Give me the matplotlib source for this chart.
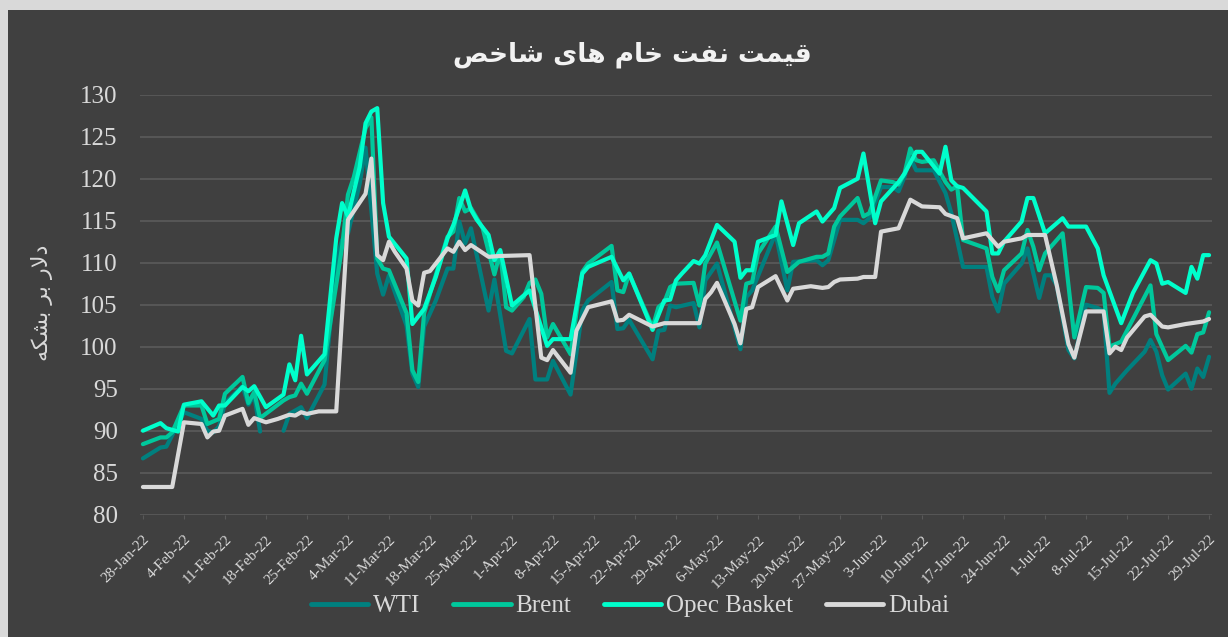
import numpy as np
import matplotlib
matplotlib.use('Agg')
import matplotlib.pyplot as plt
import matplotlib.dates as mdates
from matplotlib.patches import Rectangle

# days counted from 28-Jan-22
wti_days = [0, 3, 4, 7, 10, 11, 12, 13, 14, 17, 18, 19, 20, 22, 24, 25, 26, 27, 28, 31,
            33, 34, 35, 37, 38, 40, 41, 42, 45, 46, 47, 48, 50, 52, 53, 54, 55, 56, 59, 60,
            62, 63, 66, 67, 69, 70, 73, 75, 76, 80, 81, 82, 83, 87, 88, 89, 90, 91, 94, 95,
            96, 98, 102, 103, 104, 108, 110, 111, 115, 116, 117, 119, 122, 123, 124, 126, 128, 129, 130, 131,
            132, 135, 137, 138, 140, 144, 145, 146, 147, 150, 151, 153, 154, 155, 156, 158, 159, 161, 163, 164,
            165, 166, 168, 171, 172, 173, 174, 175, 178, 179, 180, 181, 182]
wti_vals = [86.7, 88.0, 88.1, 92.2, 91.4, 90.0, 89.8, 90.5, 93.3, 95.3, 93.1, 94.2, 89.9, np.nan, 90.0, 92.0, 92.4, 92.8, 91.5, 95.5,
            110.3, 112.7, 113.5, 119.4, 123.7, 108.7, 106.2, 108.5, 102.5, 96.8, 95.2, 102.4, 105.5, 109.3, 109.3, 114.9, 112.3, 114.1, 104.3, 108.0,
            99.5, 99.2, 103.3, 96.1, 96.1, 98.3, 94.3, 104.3, 105.5, 107.7, 102.1, 102.2, 103.2, 98.5, 101.9, 102.0, 104.9, 104.7, 105.2, 102.3,
            107.9, 109.9, 99.7, 105.9, 106.7, 113.5, 106.7, 110.1, 110.3, 109.7, 110.3, 115.1, 115.1, 114.7, 115.3, 119.0, 119.0, 118.5, 120.2, 122.5,
            121.0, 121.0, 118.3, 115.9, 109.5, 109.5, 105.9, 104.2, 107.5, 109.9, 111.7, 105.8, 108.5, 108.5, 107.3, 99.6, 98.6, 105.0, 104.6, 104.2,
            94.5, 95.6, 97.2, 99.4, 100.8, 99.4, 96.6, 94.9, 96.8, 95.0, 97.4, 96.4, 98.8]

brent_days = [0, 3, 4, 5, 7, 10, 11, 13, 14, 17, 18, 19, 20, 24, 25, 26, 27, 28, 31, 34,
              35, 36, 38, 39, 40, 41, 42, 45, 46, 47, 48, 52, 53, 54, 55, 56, 58, 60, 61, 62,
              63, 65, 66, 67, 68, 69, 70, 73, 75, 76, 80, 81, 82, 83, 87, 88, 89, 90, 91, 94,
              95, 96, 98, 102, 103, 104, 105, 108, 110, 112, 115, 116, 117, 118, 119, 122, 123, 124, 126, 128,
              129, 130, 131, 132, 133, 135, 137, 138, 139, 140, 144, 145, 146, 147, 150, 151, 152, 153, 154, 157,
              159, 161, 163, 164, 165, 167, 172, 173, 175, 178, 179, 180, 181, 182]
brent_vals = [88.4, 89.2, 89.2, 89.8, 93.0, 93.0, 90.8, 91.4, 94.4, 96.4, 93.3, 94.6, 91.5, 93.6, 94.0, 94.2, 95.6, 94.4, 98.4, 111.9,
              118.1, 120.2, 126.0, 127.3, 110.5, 109.3, 109.1, 104.0, 97.2, 95.8, 104.0, 113.1, 113.7, 117.7, 116.1, 116.5, 114.1, 108.6, 111.3, 104.7,
              104.3, 105.9, 107.6, 108.0, 106.3, 101.1, 102.7, 99.1, 108.9, 109.9, 112.0, 106.7, 106.5, 108.7, 102.3, 104.7, 105.3, 107.1, 107.5, 107.6,
              104.9, 109.9, 112.4, 103.1, 107.5, 107.7, 111.1, 114.3, 108.9, 110.1, 110.7, 110.7, 111.1, 114.3, 115.5, 117.7, 115.5, 115.9, 119.8, 119.6,
              119.3, 120.6, 123.6, 122.2, 122.0, 122.2, 119.6, 118.7, 119.1, 112.7, 111.7, 108.3, 106.6, 109.1, 111.1, 113.9, 111.9, 109.1, 111.1, 113.5,
              101.1, 107.1, 107.0, 106.4, 100.0, 100.6, 107.3, 101.5, 98.4, 100.1, 99.3, 101.5, 101.7, 104.1]

opec_days = [0, 3, 4, 6, 7, 10, 12, 13, 14, 17, 18, 19, 21, 24, 25, 26, 27, 28, 31, 33,
             34, 35, 37, 38, 39, 40, 41, 42, 45, 46, 48, 50, 52, 53, 55, 56, 57, 59, 60, 61,
             63, 65, 66, 69, 70, 73, 75, 76, 80, 82, 83, 87, 89, 90, 91, 92, 94, 95, 96, 98,
             101, 102, 103, 104, 105, 108, 109, 111, 112, 115, 116, 118, 119, 122, 123, 125, 126, 129, 130, 132,
             133, 136, 137, 138, 139, 140, 144, 145, 146, 147, 150, 151, 152, 154, 157, 158, 161, 163, 164, 167,
             169, 172, 173, 174, 175, 178, 179, 180, 181, 182]
opec_vals = [90.0, 90.9, 90.3, 89.9, 93.1, 93.5, 91.8, 93.0, 93.0, 95.2, 94.7, 95.3, 92.8, 94.3, 97.9, 96.0, 101.3, 96.7, 99.1, 112.9,
             117.1, 115.5, 121.4, 126.6, 128.0, 128.4, 117.1, 113.1, 110.5, 102.7, 104.5, 108.3, 112.9, 114.5, 118.6, 116.3, 115.1, 113.3, 110.3, 111.5,
             104.9, 106.1, 106.7, 100.1, 100.9, 100.9, 108.7, 109.5, 110.7, 107.9, 108.7, 102.0, 105.5, 105.6, 107.9, 108.7, 110.2, 109.9, 110.9, 114.5,
             112.5, 108.2, 109.1, 109.1, 112.5, 113.3, 117.3, 112.1, 114.7, 116.1, 114.9, 116.5, 118.9, 120.0, 123.0, 114.7, 117.3, 119.6, 120.6, 123.2,
             123.2, 120.6, 123.8, 119.8, 119.1, 118.9, 116.1, 111.1, 111.1, 112.5, 114.9, 117.7, 117.7, 113.5, 115.3, 114.3, 114.3, 111.7, 108.5, 102.8,
             106.4, 110.3, 109.9, 107.5, 107.7, 106.4, 109.5, 108.1, 110.9, 110.9]

dubai_days = [0, 5, 7, 10, 11, 12, 13, 14, 17, 18, 19, 21, 23, 25, 26, 27, 28, 30, 33, 35,
              38, 39, 40, 41, 42, 43, 45, 46, 47, 48, 49, 52, 53, 54, 55, 56, 59, 61, 66, 68,
              69, 70, 73, 74, 76, 80, 81, 82, 83, 87, 89, 95, 96, 97, 98, 101, 102, 103, 104, 105,
              108, 110, 111, 114, 116, 117, 118, 119, 122, 123, 125, 126, 129, 131, 133, 136, 137, 139, 140, 144,
              146, 147, 150, 151, 154, 156, 158, 159, 161, 164, 165, 166, 167, 168, 171, 172, 174, 175, 178, 181,
              182]
dubai_vals = [83.3, 83.3, 91.0, 90.8, 89.2, 89.9, 90.0, 91.8, 92.6, 90.7, 91.5, 91.0, 91.4, 91.9, 91.8, 92.2, 92.0, 92.3, 92.3, 115.1,
              118.2, 122.4, 110.9, 110.3, 112.5, 111.3, 109.3, 105.5, 104.9, 108.8, 109.0, 111.7, 111.3, 112.5, 111.5, 112.1, 110.7, 110.8, 110.9, 98.7,
              98.4, 99.6, 96.9, 101.9, 104.7, 105.4, 103.1, 103.2, 103.8, 102.4, 102.8, 102.8, 105.7, 106.5, 107.6, 102.7, 100.4, 104.5, 104.7, 107.1,
              108.4, 105.5, 106.9, 107.2, 107.0, 107.1, 107.7, 108.0, 108.1, 108.3, 108.3, 113.7, 114.1, 117.5, 116.7, 116.6, 115.8, 115.3, 112.9, 113.5,
              111.9, 112.5, 112.9, 113.3, 113.3, 107.3, 100.3, 98.7, 104.2, 104.2, 99.2, 100.0, 99.6, 101.1, 103.6, 103.8, 102.4, 102.3, 102.7, 103.0,
              103.3]

series_names = ['WTI', 'Brent', 'Opec Basket', 'Dubai']
series_colors = ['#00807f', '#00c89c', '#00ffcc', '#d9d9d9']

title_text = 'قیمت نفت خام های شاخص'
ylabel_text = 'دلار بر بشکه'

# matplotlib does no Arabic shaping: map letters to presentation forms
FORMS = {
    'ا': ('\uFE8D', '\uFE8E', None, None),
    'ب': ('\uFE8F', '\uFE90', '\uFE91', '\uFE92'),
    'ت': ('\uFE95', '\uFE96', '\uFE97', '\uFE98'),
    'خ': ('\uFEA5', '\uFEA6', '\uFEA7', '\uFEA8'),
    'د': ('\uFEA9', '\uFEAA', None, None),
    'ر': ('\uFEAD', '\uFEAE', None, None),
    'ش': ('\uFEB5', '\uFEB6', '\uFEB7', '\uFEB8'),
    'ص': ('\uFEB9', '\uFEBA', '\uFEBB', '\uFEBC'),
    'ف': ('\uFED1', '\uFED2', '\uFED3', '\uFED4'),
    'ق': ('\uFED5', '\uFED6', '\uFED7', '\uFED8'),
    'ل': ('\uFEDD', '\uFEDE', '\uFEDF', '\uFEE0'),
    'م': ('\uFEE1', '\uFEE2', '\uFEE3', '\uFEE4'),
    'ن': ('\uFEE5', '\uFEE6', '\uFEE7', '\uFEE8'),
    'ه': ('\uFEE9', '\uFEEA', '\uFEEB', '\uFEEC'),
    'ی': ('\uFBFC', '\uFBFD', '\uFBFE', '\uFBFF'),
    'ک': ('\uFB8E', '\uFB8F', '\uFB90', '\uFB91'),
}


def shape(text):
    out = []
    i = 0
    while i < len(text):
        c = text[i]
        if c not in FORMS:
            out.append(c)
            i += 1
            continue
        prev = text[i - 1] if i > 0 else None
        jp = prev in FORMS and FORMS[prev][2] is not None
        if c == 'ل' and i + 1 < len(text) and text[i + 1] == 'ا':
            out.append('\uFEFC' if jp else '\uFEFB')
            i += 2
            continue
        nxt = text[i + 1] if i + 1 < len(text) else None
        jn = FORMS[c][2] is not None and nxt in FORMS
        iso, fin, ini, med = FORMS[c]
        out.append(med if (jp and jn) else fin if jp else ini if jn else iso)
        i += 1
    return ''.join(out)[::-1]


start = np.datetime64('2022-01-28')
end = np.datetime64('2022-07-29')

def to_dates(days):
    return start + np.array(days).astype('timedelta64[D]')

fig = plt.figure(figsize=(12.28, 6.37), dpi=100, facecolor='#d9d9d9')
fig.patches.append(Rectangle((8 / 1228, 0), 1, 1 - 10 / 637, transform=fig.transFigure,
                             facecolor='#404040', edgecolor='none', zorder=-10))
ax = fig.add_axes([140 / 1228, 1 - 514.7 / 637, 1072 / 1228, 420 / 637])
ax.set_facecolor('#404040')

all_days = [wti_days, brent_days, opec_days, dubai_days]
all_vals = [wti_vals, brent_vals, opec_vals, dubai_vals]
for d, v, name, col in zip(all_days, all_vals, series_names, series_colors):
    ax.plot(to_dates(d), v, color=col, lw=3, label=name, solid_joinstyle='round',
            solid_capstyle='round')

ax.set_ylim(80, 130)
ax.set_yticks(np.arange(80, 131, 5))
ax.set_xlim(start - np.timedelta64(12, 'h'), end + np.timedelta64(12, 'h'))
ax.set_xticks(np.arange(start, end + np.timedelta64(1, 'D'), np.timedelta64(7, 'D')))
ax.xaxis.set_major_formatter(mdates.DateFormatter('%-d-%b-%y'))
ax.yaxis.grid(True, color='#595959', lw=1.3)
ax.set_axisbelow(True)
for s in ax.spines.values():
    s.set_visible(False)

ax.tick_params(axis='y', length=0, pad=16, labelsize=18, labelcolor='#d9d9d9')
ax.tick_params(axis='x', length=3, color='#595959', pad=10, labelsize=11, labelcolor='#d9d9d9')
for lbl in ax.get_yticklabels() + ax.get_xticklabels():
    lbl.set_family('Liberation Serif')
plt.setp(ax.get_xticklabels(), rotation=45, ha='right', rotation_mode='anchor')

fig.text(632 / 1228, 1 - 55 / 637, shape(title_text), ha='center', va='center',
         fontsize=19, fontweight='bold', color='#f2f2f2', family='DejaVu Sans')
fig.text(42 / 1228, 1 - 303 / 637, shape(ylabel_text), ha='center', va='center',
         rotation=90, fontsize=16, color='#d9d9d9', family='DejaVu Sans')

leg = ax.legend(loc='center', bbox_to_anchor=(630 / 1228, 1 - 606 / 637),
                bbox_transform=fig.transFigure, ncol=4, frameon=False,
                prop={'family': 'Liberation Serif', 'size': 18},
                handlelength=2.3, handletextpad=0.2, columnspacing=1.3)
for t in leg.get_texts():
    t.set_color('#d9d9d9')
for h in leg.get_lines():
    h.set_linewidth(3.5)

fig.savefig('out.png', dpi=100, facecolor=fig.get_facecolor())
